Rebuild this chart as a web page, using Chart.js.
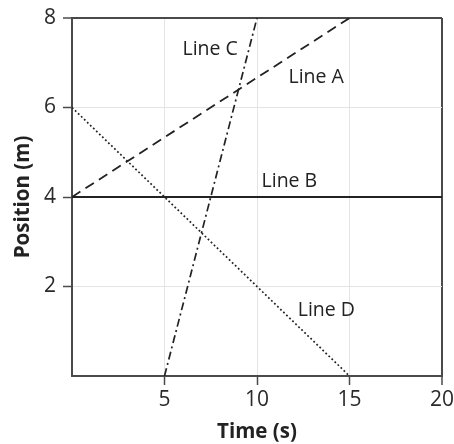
<!DOCTYPE html>
<html>
<head>
<meta charset="utf-8">
<script src="https://cdn.jsdelivr.net/npm/chart.js@4.4.0/dist/chart.umd.min.js"></script>
<style>
  html, body { margin: 0; padding: 0; background: #fff; }
  #wrap { width: 454px; height: 444px; }
</style>
</head>
<body>
<div id="wrap"><canvas id="posChart" width="454" height="444"></canvas></div>
<script>
// ======================================
// Position vs time data
// ======================================

const lineNames = ["Line A", "Line B", "Line C", "Line D"];

const lineATime = [0, 15];
const lineAPos = [4, 8];

const lineBTime = [0, 20];
const lineBPos = [4, 4];

const lineCTime = [5, 10];
const lineCPos = [0, 8];

const lineDTime = [0, 15];
const lineDPos = [6, 0];

const xTicks = [5, 10, 15, 20];
const yTicks = [2, 4, 6, 8];

// where each line's name sits, in data units (time, position)
const labelTime = [13.2, 11.75, 7.47, 13.75];
const labelPos = [6.71, 4.38, 7.34, 1.5];

const FONT = "'Open Sans', 'Noto Sans', 'Liberation Sans', sans-serif";
const INK = "#222";
const AXIS = "#4a4a4a";
const GRID = "#e4e4e4";

function toPoints(xs, ys) {
  return xs.map((x, i) => ({ x: x, y: ys[i] }));
}

const lineLabels = {
  id: "lineLabels",
  afterDatasetsDraw(chart) {
    const ctx = chart.ctx;
    const xs = chart.scales.x;
    const ys = chart.scales.y;
    ctx.save();
    ctx.font = "19.5px " + FONT;
    ctx.fillStyle = INK;
    ctx.textAlign = "center";
    ctx.textBaseline = "alphabetic";
    lineNames.forEach((name, i) => {
      const px = xs.getPixelForValue(labelTime[i]);
      const py = ys.getPixelForValue(labelPos[i]);
      ctx.fillText(name, px, py + 7);
    });
    ctx.restore();
  },
};

const edgeColor = (max) => (c) => (c.tick && c.tick.value === max ? AXIS : GRID);
const edgeWidth = (max) => (c) => (c.tick && c.tick.value === max ? 2 : 1);

new Chart(document.getElementById("posChart"), {
  type: "scatter",

  data: {
    datasets: [
      {
        label: lineNames[0],
        data: toPoints(lineATime, lineAPos),
        borderColor: INK,
        borderWidth: 1.8,
        borderDash: [10, 6],
      },
      {
        label: lineNames[1],
        data: toPoints(lineBTime, lineBPos),
        borderColor: INK,
        borderWidth: 2.2,
      },
      {
        label: lineNames[2],
        data: toPoints(lineCTime, lineCPos),
        borderColor: INK,
        borderWidth: 1.7,
        borderDash: [8, 3.5, 2, 3.5],
      },
      {
        label: lineNames[3],
        data: toPoints(lineDTime, lineDPos),
        borderColor: INK,
        borderWidth: 1.7,
        borderDash: [1.8, 2.4],
      },
    ],
  },

  options: {
    responsive: false,
    animation: false,
    showLine: true,
    pointRadius: 0,
    pointHoverRadius: 0,
    layout: { padding: { top: 18, right: 12, left: 0, bottom: 0 } },

    plugins: {
      legend: { display: false },
      tooltip: { enabled: false },
    },

    scales: {
      x: {
        type: "linear",
        min: 0,
        max: 20,
        afterBuildTicks: (axis) => { axis.ticks = xTicks.map((v) => ({ value: v })); },
        afterFit: (scale) => {
          scale.height = 68;
          scale.paddingLeft = 0;
          scale.paddingRight = 0;
        },
        border: { display: true, color: AXIS, width: 2 },
        grid: {
          color: edgeColor(20),
          lineWidth: edgeWidth(20),
          tickColor: AXIS,
          tickLength: 9,
          tickWidth: 1.5,
        },
        ticks: {
          color: "#2a2a2a",
          padding: 2,
          maxRotation: 0,
          font: { family: FONT, size: 21 },
        },
        title: {
          display: true,
          text: "Time (s)",
          color: INK,
          padding: { top: 0, bottom: 0 },
          font: { family: FONT, size: 20.5, weight: "bold", lineHeight: 1.2 },
        },
      },

      y: {
        type: "linear",
        min: 0,
        max: 8,
        afterBuildTicks: (axis) => { axis.ticks = yTicks.map((v) => ({ value: v })); },
        afterFit: (scale) => {
          scale.width = 72;
          scale.paddingTop = 0;
          scale.paddingBottom = 0;
        },
        border: { display: true, color: AXIS, width: 2 },
        grid: {
          color: edgeColor(8),
          lineWidth: edgeWidth(8),
          tickColor: AXIS,
          tickLength: 9,
          tickWidth: 1.5,
        },
        ticks: {
          color: "#2a2a2a",
          padding: 7,
          font: { family: FONT, size: 21 },
        },
        title: {
          display: true,
          text: "Position (m)",
          color: INK,
          padding: { top: 12, bottom: 0 },
          font: { family: FONT, size: 20.5, weight: "bold", lineHeight: 1.1 },
        },
      },
    },
  },

  plugins: [lineLabels],
});
</script>
</body>
</html>
